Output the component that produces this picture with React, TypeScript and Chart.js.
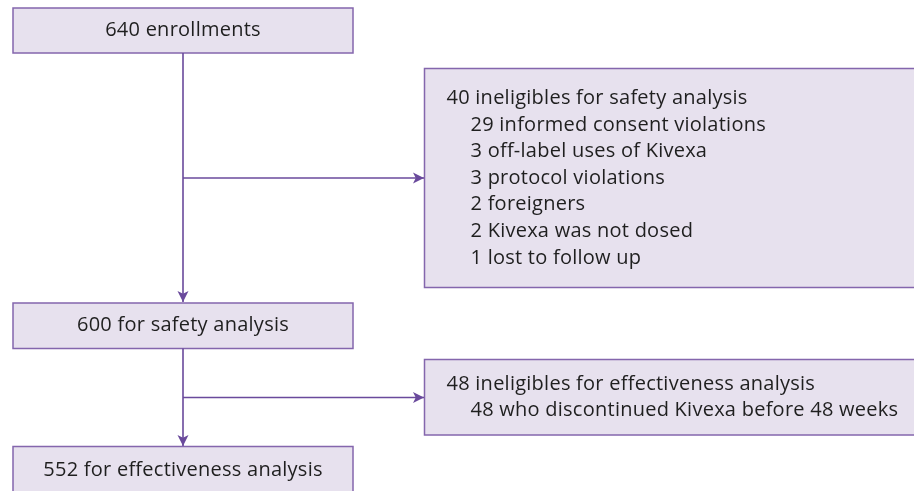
import React, { useEffect, useRef } from "react";
import { Chart, registerables } from "chart.js";

Chart.register(...registerables);

// Flow boxes: label lines (first line is the heading, rest are indented sub-items)
const boxTitles = [
  "640 enrollments",
  "40 ineligibles for safety analysis",
  "600 for safety analysis",
  "48 ineligibles for effectiveness analysis",
  "552 for effectiveness analysis",
];
const boxSubItems: string[][] = [
  [],
  [
    "29 informed consent violations",
    "3 off-label uses of Kivexa",
    "3 protocol violations",
    "2 foreigners",
    "2 Kivexa was not dosed",
    "1 lost to follow up",
  ],
  [],
  ["48 who discontinued Kivexa before 48 weeks"],
  [],
];
const boxCentered = [true, false, true, false, true];
// box extents in chart units [x1, x2, y1, y2]
const boxX1 = [13, 424.5, 13, 424.5, 13];
const boxX2 = [353, 918, 353, 918, 353];
const boxY1 = [8, 68.5, 303, 359.5, 446.5];
const boxY2 = [53, 287.5, 348.5, 435, 495];

// connectors: [x, y] pairs, arrowhead at end
const connA = [{ x: 183, y: 53 }, { x: 183, y: 302 }];
const connB = [{ x: 183, y: 178 }, { x: 424, y: 178 }];
const connC = [{ x: 183, y: 348.5 }, { x: 183, y: 446 }];
const connD = [{ x: 183, y: 397.5 }, { x: 424, y: 397.5 }];

const PURPLE = "#6a4a9c";
const FILL = "#e7e1ee";
const BORDER = "#8466ad";
const TEXT = "#1f1f1f";
const FONT = "20px 'Open Sans'";

export default function App() {
  const ref = useRef<HTMLCanvasElement>(null);
  useEffect(() => {
    if (!ref.current) return;
    const boxesPlugin = {
      id: "boxes",
      beforeDatasetsDraw(chart: any) {
        const { ctx, scales } = chart;
        const xs = scales.x, ys = scales.y;
        ctx.save();
        for (let i = 0; i < boxTitles.length; i++) {
          const x1 = xs.getPixelForValue(boxX1[i]);
          const x2 = xs.getPixelForValue(boxX2[i]);
          const y1 = ys.getPixelForValue(boxY1[i]);
          const y2 = ys.getPixelForValue(boxY2[i]);
          ctx.fillStyle = FILL;
          ctx.fillRect(x1, y1, x2 - x1, y2 - y1);
          ctx.strokeStyle = BORDER;
          ctx.lineWidth = 1.5;
          ctx.strokeRect(x1, y1, x2 - x1, y2 - y1);
          ctx.fillStyle = TEXT;
          ctx.font = FONT;
          try { (ctx as any).letterSpacing = "0.25px"; } catch (e) {}
          ctx.textBaseline = "middle";
          const lines = [boxTitles[i], ...boxSubItems[i]];
          const lh = 26.6;
          const cy = (y1 + y2) / 2;
          const startY = cy - ((lines.length - 1) * lh) / 2;
          lines.forEach((t, j) => {
            if (boxCentered[i]) {
              ctx.textAlign = "center";
              ctx.fillText(t, (x1 + x2) / 2, startY + j * lh);
            } else {
              ctx.textAlign = "left";
              ctx.fillText(t, x1 + 22 + (j > 0 ? 24 : 0), startY + j * lh);
            }
          });
        }
        ctx.restore();
      },
      afterDatasetsDraw(chart: any) {
        const { ctx } = chart;
        ctx.save();
        ctx.fillStyle = PURPLE;
        chart.data.datasets.forEach((ds: any, di: number) => {
          const meta = chart.getDatasetMeta(di);
          const pts = meta.data;
          if (pts.length < 2) return;
          const a = pts[pts.length - 2], b = pts[pts.length - 1];
          const ang = Math.atan2(b.y - a.y, b.x - a.x);
          const L = 11, W = 5.5;
          ctx.save();
          ctx.translate(b.x, b.y);
          ctx.rotate(ang);
          ctx.beginPath();
          ctx.moveTo(0, 0);
          ctx.lineTo(-L, -W);
          ctx.lineTo(-L * 0.75, 0);
          ctx.lineTo(-L, W);
          ctx.closePath();
          ctx.fill();
          ctx.restore();
        });
        ctx.restore();
      },
    };
    const mk = (d: any[]) => ({
      data: d,
      showLine: true,
      borderColor: PURPLE,
      borderWidth: 1.6,
      pointRadius: 0,
      pointHoverRadius: 0,
      fill: false,
    });
    const chart = new Chart(ref.current, {
      type: "scatter",
      data: { datasets: [mk(connA), mk(connB), mk(connC), mk(connD)] },
      options: {
        animation: false,
        responsive: false,
        layout: { padding: 0 },
        plugins: { legend: { display: false }, tooltip: { enabled: false } },
        scales: {
          x: { type: "linear", min: 0, max: 914, display: false },
          y: { type: "linear", min: 0, max: 491, reverse: true, display: false },
        },
      },
      plugins: [boxesPlugin],
    });
    return () => chart.destroy();
  }, []);
  return (
    <div style={{ position: "fixed", left: 0, top: 0, width: 914, height: 491, background: "#fff" }}>
      <canvas ref={ref} width={914} height={491} />
    </div>
  );
}
